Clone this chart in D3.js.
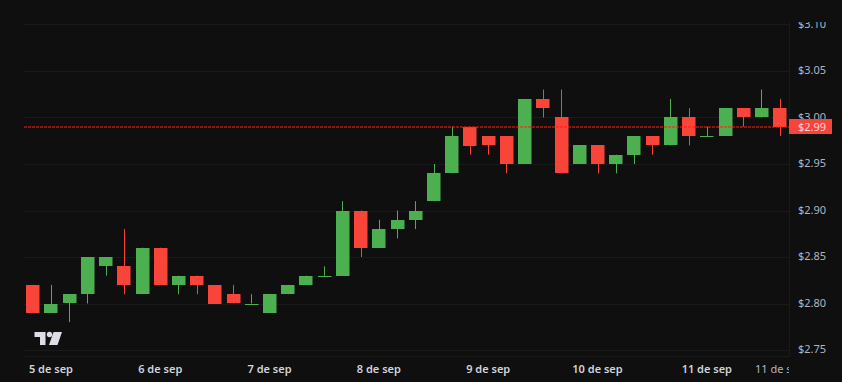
<!DOCTYPE html>
<html>
<head>
<meta charset="utf-8">
<script src="https://cdn.jsdelivr.net/npm/d3@7"></script>
<style>
html, body { margin: 0; padding: 0; background: #0f0f0f; overflow: hidden; }
text { font-family: "Noto Sans", sans-serif; }
</style>
</head>
<body>
<svg id="chart" width="842" height="382"></svg>
<script>
// 4h candles
const opens  = [2.82,2.79,2.80,2.81,2.84,2.84,2.81,2.86,2.82,2.83,2.82,2.81,2.80,2.79,2.81,2.82,2.83,2.83,2.90,2.86,2.88,2.89,2.91,2.94,2.99,2.98,2.98,2.95,3.02,3.00,2.95,2.97,2.95,2.96,2.98,2.97,3.00,2.98,2.98,3.01,3.00,3.01];
const highs  = [2.82,2.82,2.81,2.85,2.85,2.88,2.86,2.86,2.83,2.83,2.82,2.82,2.81,2.81,2.82,2.83,2.84,2.91,2.90,2.89,2.90,2.91,2.95,2.99,2.99,2.98,2.98,3.02,3.03,3.03,2.97,2.97,2.96,2.98,2.98,3.02,3.01,2.99,3.01,3.01,3.03,3.02];
const lows   = [2.79,2.79,2.78,2.80,2.83,2.81,2.81,2.82,2.81,2.81,2.80,2.80,2.80,2.79,2.81,2.82,2.83,2.83,2.85,2.86,2.87,2.88,2.91,2.94,2.96,2.96,2.94,2.95,3.00,2.94,2.95,2.94,2.94,2.95,2.96,2.97,2.97,2.98,2.98,2.99,3.00,2.98];
const closes = [2.79,2.80,2.81,2.85,2.85,2.82,2.86,2.82,2.83,2.82,2.80,2.80,2.80,2.81,2.82,2.83,2.83,2.90,2.86,2.88,2.89,2.90,2.94,2.98,2.97,2.97,2.95,3.02,3.01,2.94,2.97,2.95,2.96,2.98,2.97,3.00,2.98,2.98,3.01,3.00,3.01,2.99];

const priceTicks = [2.75,2.80,2.85,2.90,2.95,3.00,3.05,3.10];
const lastPrice = 2.99;
const dayLabels = ['5 de sep','6 de sep','7 de sep','8 de sep','9 de sep','10 de sep','11 de sep'];
const dayIndex = [1,7,13,19,25,31,37];
const lastLabel = '11 de sep';

const GRID = '#1a1a1a';
const UP = '#4caf50';
const DOWN = '#f9443a';
const PRICE_LINE = '#ff1f10';
const TEXT_COLOR = '#b2b5be';
const TIME_COLOR = '#d1d4dc';
const LOGO_COLOR = '#dcdde6';

const PLOT = { left: 24, right: 789, top: 22, bottom: 356 };
const BODY_WIDTH = 13;

const svg = d3.select('#chart');

const xScale = d3.scaleLinear().domain([0, 41]).range([32.7, 779.7]);
const yScale = d3.scaleLinear().domain([2.75, 3.05]).range([350, 71]);

svg.append('defs').append('clipPath').attr('id', 'axis-clip')
    .append('rect').attr('x', 0).attr('y', PLOT.top).attr('width', 842).attr('height', 382 - PLOT.top);
svg.select('defs').append('clipPath').attr('id', 'time-clip')
    .append('rect').attr('x', 0).attr('y', PLOT.bottom).attr('width', PLOT.right).attr('height', 382 - PLOT.bottom);

// Grid
const snap = v => Math.round(v) + 0.5;
svg.append('g').selectAll('line')
    .data(priceTicks)
    .enter().append('line')
    .attr('x1', PLOT.left).attr('x2', PLOT.right)
    .attr('y1', d => snap(yScale(d))).attr('y2', d => snap(yScale(d)))
    .attr('stroke', GRID);

// Axis borders
svg.append('line').attr('x1', PLOT.right + 0.5).attr('x2', PLOT.right + 0.5)
    .attr('y1', PLOT.top).attr('y2', PLOT.bottom).attr('stroke', GRID);
svg.append('line').attr('x1', PLOT.left).attr('x2', PLOT.right)
    .attr('y1', PLOT.bottom + 0.5).attr('y2', PLOT.bottom + 0.5).attr('stroke', GRID);

// Candles
const candles = d3.range(opens.length);
const color = i => closes[i] >= opens[i] ? UP : DOWN;

svg.append('g').selectAll('line')
    .data(candles)
    .enter().append('line')
    .attr('x1', i => snap(xScale(i))).attr('x2', i => snap(xScale(i)))
    .attr('y1', i => yScale(highs[i])).attr('y2', i => yScale(lows[i]))
    .attr('stroke', color)
    .attr('stroke-width', 1);

svg.append('g').selectAll('rect')
    .data(candles)
    .enter().append('rect')
    .attr('x', i => Math.round(xScale(i) - BODY_WIDTH / 2))
    .attr('width', BODY_WIDTH + 0.5)
    .attr('y', i => Math.round(yScale(Math.max(opens[i], closes[i]))))
    .attr('height', i => Math.max(1, Math.round(Math.abs(yScale(opens[i]) - yScale(closes[i])))))
    .attr('fill', color);

// Last price line
svg.append('line')
    .attr('x1', PLOT.left).attr('x2', PLOT.right)
    .attr('y1', snap(yScale(lastPrice)) - 0.5).attr('y2', snap(yScale(lastPrice)) - 0.5)
    .attr('stroke', PRICE_LINE)
    .attr('stroke-width', 1.2)
    .attr('stroke-dasharray', '3 1');

// Price labels
svg.append('g').attr('clip-path', 'url(#axis-clip)').selectAll('text')
    .data(priceTicks)
    .enter().append('text')
    .attr('x', 798)
    .attr('y', d => yScale(d) + 3.3)
    .attr('fill', TEXT_COLOR)
    .style('font-size', '11px')
    .text(d => '$' + d3.format('.2f')(d));

svg.append('rect')
    .attr('x', PLOT.right).attr('y', 119)
    .attr('width', 43).attr('height', 15)
    .attr('fill', DOWN);
svg.append('text')
    .attr('x', 798)
    .attr('y', yScale(lastPrice) + 3.8)
    .attr('fill', '#ffd9d6')
    .style('font-size', '11px')
    .text('$' + d3.format('.2f')(lastPrice));

// Time labels
svg.append('g').selectAll('text')
    .data(dayLabels)
    .enter().append('text')
    .attr('x', (d, i) => xScale(dayIndex[i]))
    .attr('y', 372.5)
    .attr('text-anchor', 'middle')
    .attr('fill', TIME_COLOR)
    .style('font-size', '11px')
    .style('font-weight', '600')
    .text(d => d);

svg.append('g').attr('clip-path', 'url(#time-clip)').append('text')
    .attr('x', xScale(41))
    .attr('y', 372.5)
    .attr('text-anchor', 'middle')
    .attr('fill', TEXT_COLOR)
    .style('font-size', '11px')
    .text(lastLabel);

// TV logo
svg.append('path')
    .attr('fill', LOGO_COLOR)
    .attr('d', 'M34.5 332H45.5V345H40V337H34.5Z M53.5 332H62L57.5 345H49Z');
svg.append('circle').attr('cx', 49.5).attr('cy', 334.5).attr('r', 2.7).attr('fill', LOGO_COLOR);
</script>
</body>
</html>
